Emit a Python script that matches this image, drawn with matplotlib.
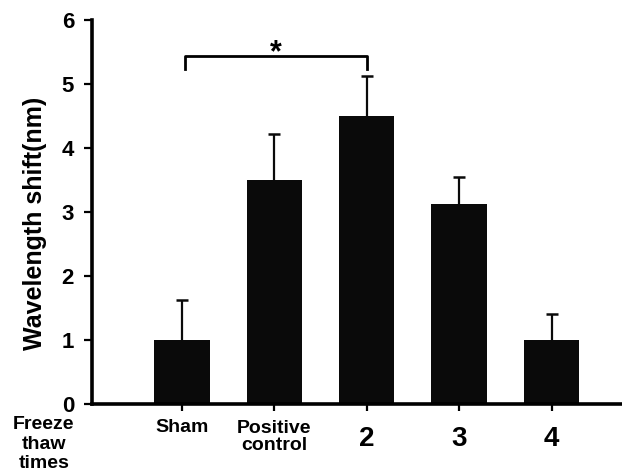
import matplotlib
matplotlib.use("Agg")
import matplotlib.pyplot as plt

plt.rcParams['font.family'] = ['Liberation Sans', 'DejaVu Sans']
plt.rcParams['font.weight'] = 'bold'

# data
groups = ["Sham", "Positive\ncontrol", "2", "3", "4"]
means = [1.0, 3.5, 4.5, 3.12, 1.0]
errs = [0.62, 0.71, 0.63, 0.42, 0.41]
yticks = [0, 1, 2, 3, 4, 5, 6]

fig = plt.figure(figsize=(6.22, 4.72), dpi=100)
ax = fig.add_axes([0.148, 0.144, 0.852, 0.814])

x = list(range(len(groups)))
ax.bar(x, means, width=0.6, color="#0a0a0a")
eb = ax.errorbar(x, means, yerr=[[0] * len(errs), errs], fmt="none",
                 ecolor="#0a0a0a", elinewidth=1.6, capsize=4.3, capthick=1.8)
# only the upper cap should show
eb[1][0].set_visible(False)

# significance bracket Sham vs 2
bx1, bx2, by, bh = 0.03, 2, 5.44, 0.21
ax.plot([bx1, bx1, bx2, bx2], [by - bh, by, by, by - bh], color="black", lw=2)
ax.text((bx1 + bx2) / 2, 5.36, "*", ha="center", va="baseline",
        fontsize=22, fontweight="bold")

ax.set_xlim(-0.97, 4.76)
ax.set_ylim(0, 6)
ax.set_yticks(yticks)
ax.set_yticklabels([str(t) for t in yticks], fontsize=16, fontweight="bold")
ax.set_xticks(x)
ax.set_xticklabels([])

# x labels: word labels smaller, numbers bigger and lower
for i, g in enumerate(groups):
    if i == 0:
        size, dy, ls = 14, -16.6, 1.0
    elif i == 1:
        size, dy, ls = 14, -24.0, 1.0
    else:
        size, dy, ls = 20, -25.5, 1.0
    ax.annotate(g, xy=(i, 0), xycoords=("data", "axes fraction"),
                xytext=(0, dy), textcoords="offset points",
                ha="center", va="center", fontsize=size,
                fontweight="bold", linespacing=ls)

for s in ["top", "right"]:
    ax.spines[s].set_visible(False)
ax.spines["left"].set_linewidth(2.6)
ax.spines["bottom"].set_linewidth(2.6)
ax.tick_params(axis="y", length=6, width=1.6, pad=7)
ax.tick_params(axis="x", length=5, width=1.6)

fig.text(35 / 622, 0.5275, "Wavelength shift(nm)", rotation=90,
         ha="center", va="center", fontsize=18, fontweight="bold")

fig.text(44 / 622, 0.059, "Freeze\nthaw\ntimes", ha="center", va="center",
         fontsize=14, fontweight="bold", linespacing=1.2)

fig.savefig("out.png", dpi=100)
